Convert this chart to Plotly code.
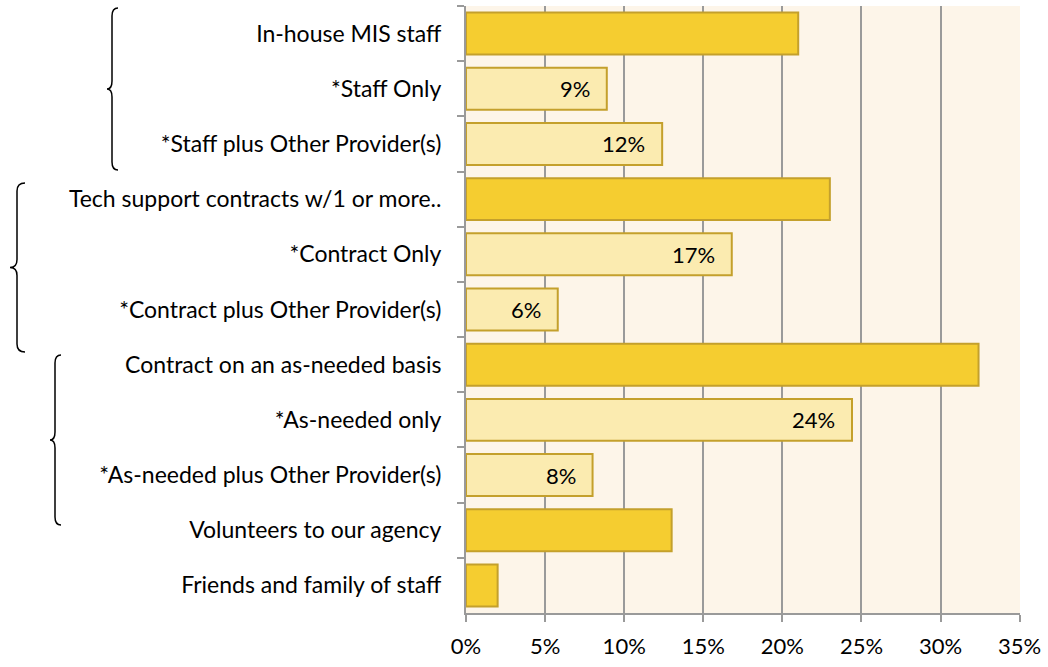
import plotly.graph_objects as go

# ----------------------------------------------------------------------------
# Data (top to bottom)
# ----------------------------------------------------------------------------
categories = [
    "In-house MIS staff",
    "*Staff Only",
    "*Staff plus Other Provider(s)",
    "Tech support contracts w/1 or more..",
    "*Contract Only",
    "*Contract plus Other Provider(s)",
    "Contract on an as-needed basis",
    "*As-needed only",
    "*As-needed plus Other Provider(s)",
    "Volunteers to our agency",
    "Friends and family of staff",
]
values = [21.0, 8.9, 12.4, 23.0, 16.8, 5.8, 32.4, 24.4, 8.0, 13.0, 2.0]
is_sub = [False, True, True, False, True, True, False, True, True, False, False]
x_ticks = [0, 5, 10, 15, 20, 25, 30, 35]
x_tick_labels = [f"{t}%" for t in x_ticks]

# ----------------------------------------------------------------------------
W, H = 1048, 667
L, R, T, B = 466, 1020, 6, 613
FONT = "Lato, 'Open Sans', sans-serif"

DARK = "#F5CD30"
LIGHT = "#FBEBB0"
EDGE = "#C4A02C"
GRID = "#9A9A9A"


def px(x):
    return (x - L) / (R - L)


def py(y):
    return (B - y) / (B - T)


def brace(x_end, x_line, x_tip, y0, y1, r=8):
    ym = (y0 + y1) / 2
    pts = [
        f"M {px(x_end)} {py(y0)}",
        f"Q {px(x_line)} {py(y0)} {px(x_line)} {py(y0 + r)}",
        f"L {px(x_line)} {py(ym - r)}",
        f"Q {px(x_line)} {py(ym)} {px(x_tip)} {py(ym)}",
        f"Q {px(x_line)} {py(ym)} {px(x_line)} {py(ym + r)}",
        f"L {px(x_line)} {py(y1 - r)}",
        f"Q {px(x_line)} {py(y1)} {px(x_end)} {py(y1)}",
    ]
    return dict(type="path", xref="paper", yref="paper", path=" ".join(pts),
                line=dict(color="black", width=1.5))


fig = go.Figure()
fig.add_trace(go.Bar(
    x=values,
    y=categories,
    orientation="h",
    width=0.76,
    marker=dict(color=[LIGHT if s else DARK for s in is_sub],
                line=dict(color=EDGE, width=2)),
    hoverinfo="x+y",
))

annotations = []
for cat, v, s in zip(categories, values, is_sub):
    if s:
        annotations.append(dict(
            x=v, y=cat, xref="x", yref="y", text=f"{round(v)}%",
            showarrow=False, xanchor="right", xshift=-15,
            font=dict(family=FONT, size=22, color="black"),
        ))

fig.update_layout(
    width=W, height=H,
    margin=dict(l=L, r=W - R, t=T, b=H - B),
    paper_bgcolor="white",
    plot_bgcolor="#FDF5E9",
    showlegend=False,
    bargap=0.24,
    font=dict(family=FONT, size=23, color="black"),
    annotations=annotations,
    shapes=[
        brace(118, 112, 107, 8, 170),
        brace(25, 17, 10, 183, 352),
        brace(61, 55, 50, 355, 525),
    ],
    xaxis=dict(
        range=[0, 35.02],
        tickvals=x_ticks,
        ticktext=x_tick_labels,
        showgrid=True, gridcolor=GRID, gridwidth=2,
        showline=True, linecolor=GRID, linewidth=2,
        ticks="outside", ticklen=7, tickcolor=GRID, tickwidth=2,
        zeroline=False,
        automargin=False,
        ticklabelstandoff=6,
        tickfont=dict(size=22),
    ),
    yaxis=dict(
        autorange="reversed",
        showline=True, linecolor=GRID, linewidth=2,
        ticks="outside", ticklen=7, tickcolor=GRID, tickwidth=2,
        tickson="boundaries",
        showgrid=False,
        automargin=False,
        ticklabelstandoff=18,
        tickfont=dict(size=23),
    ),
)

# the page body has a default 8px margin; drop it so the figure sits at 0,0
fig.write_html("out.html", config={"displayModeBar": False},
               post_script="document.body.style.margin='0';")
